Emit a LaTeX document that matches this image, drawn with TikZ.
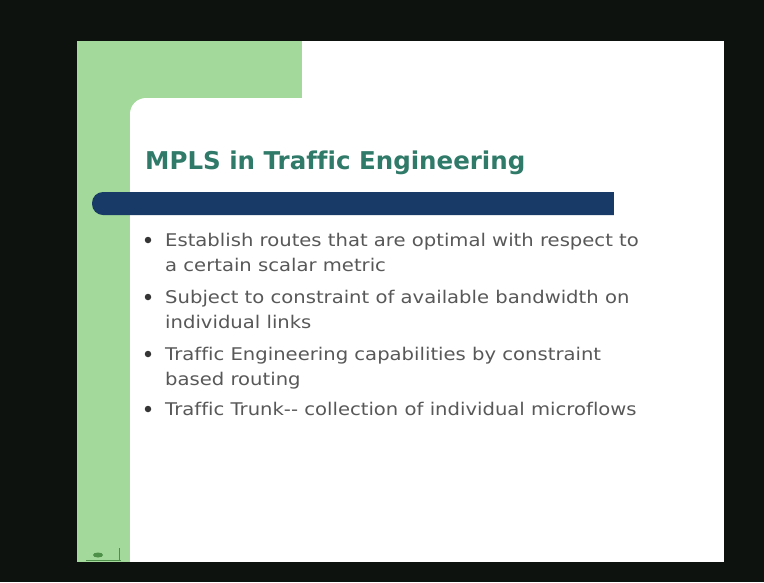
\documentclass[tikz,border=0pt]{standalone}
\usepackage{fontspec}
\setmainfont[Ligatures={NoCommon}]{DejaVu Sans}
\newfontfamily\bodyfont[Ligatures={NoCommon},FakeStretch=1.12]{DejaVu Sans}
\definecolor{framebg}{HTML}{0E120E}
\definecolor{panelgreen}{HTML}{A3D99A}
\definecolor{barblue}{HTML}{173A66}
\definecolor{titlegreen}{HTML}{2F7A68}
\definecolor{bodygray}{HTML}{585858}
\definecolor{logogreen}{HTML}{4E8F4A}
\tikzset{
    titletext/.style={ % kiểu chữ tiêu đề
        anchor=base west,
        text=titlegreen,
        font=\fontsize{24.5}{27}\selectfont\bfseries,
        inner sep=0pt
    },
    linetext/.style={ % kiểu dòng chữ của mục
        anchor=base west,
        text=bodygray,
        font=\bodyfont\fontsize{17.5}{20}\selectfont,
        inner sep=0pt
    },
    dotmark/.style={ % dấu chấm đầu mục
        circle,
        fill=bodygray!60!black,
        inner sep=0pt,
        minimum size=6.5pt
    }
}

\begin{document}
\begin{tikzpicture}[x=1pt,y=-1pt]

        % nền và trang chiếu
        \fill[framebg] (0,0) rectangle (764,582);
        \useasboundingbox (0,0) rectangle (764,582);
        \fill[white] (77,41) rectangle (724,562);
        \fill[panelgreen] (77,41) rectangle (302,98);
        \fill[panelgreen] (77,41) rectangle (130,562);
        \fill[panelgreen] (130,98) rectangle (160,128);
        \fill[white, rounded corners=16pt] (130,98) rectangle (330,200);

        % biểu tượng nhỏ ở góc dưới
        \fill[logogreen] (98,555) ellipse (5pt and 2.5pt);
        \draw[logogreen, line width=1pt] (86,560) -- (121,560);
        \draw[logogreen, line width=1pt] (119,548) -- (119,560);

        % thanh ngang
        \fill[barblue, rounded corners=11pt] (92,192) rectangle (640,215);
        \fill[white] (614,190) rectangle (650,217);

        % tiêu đề
        \node[titletext] (title) at (145,169) {MPLS in Traffic Engineering};

        % các mục
        \node[linetext] (l1) at (165,246) {Establish routes that are optimal with respect to};
        \node[linetext] (l2) at (165,271) {a certain scalar metric};
        \node[linetext] (l3) at (165,303) {Subject to constraint of available bandwidth on};
        \node[linetext] (l4) at (165,328) {individual links};
        \node[linetext] (l5) at (165,360) {Traffic Engineering capabilities by constraint};
        \node[linetext] (l6) at (165,385) {based routing};
        \node[linetext] (l7) at (165,415) {Traffic Trunk{-}{-} collection of individual microflows};

        \node[dotmark] (d1) at (148,240) {};
        \node[dotmark] (d3) at (148,297) {};
        \node[dotmark] (d5) at (148,354) {};
        \node[dotmark] (d7) at (148,409) {};

\end{tikzpicture}
\end{document}
